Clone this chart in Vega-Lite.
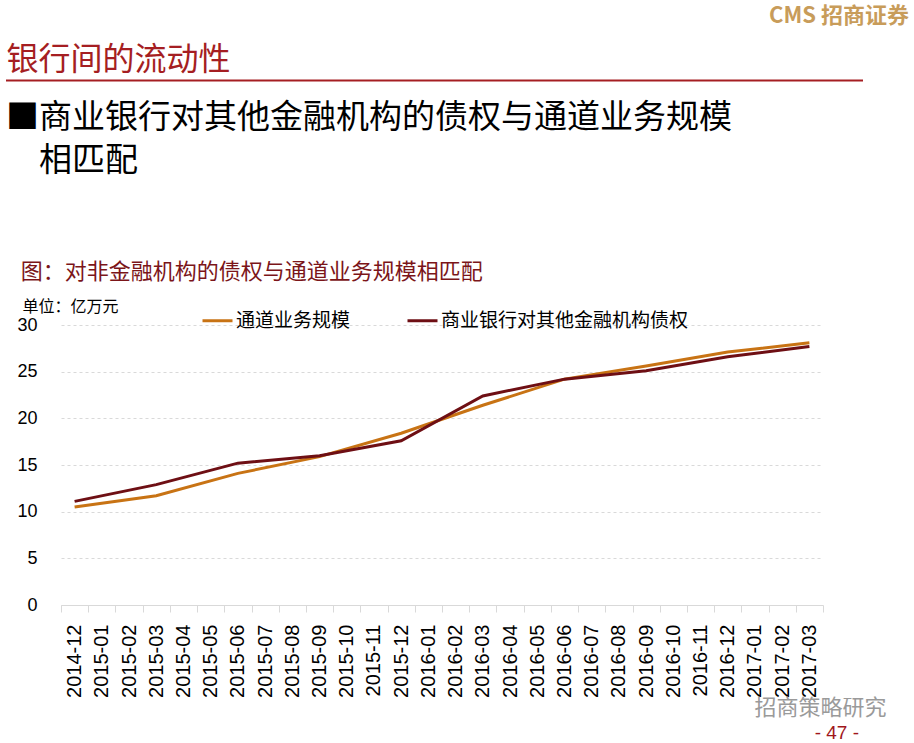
{
  "$schema": "https://vega.github.io/schema/vega-lite/v6.json",
  "description": "商业银行对其他金融机构债权与通道业务规模",
  "padding": {"left": 5, "top": 5, "right": 5, "bottom": 1},
  "spacing": 20,
  "resolve": {"legend": {"color": "independent"}},
  "title": {
    "text": "- 47 -",
    "orient": "bottom",
    "anchor": "end",
    "dx": -50,
    "color": "#a0161b",
    "font": "Liberation Sans",
    "fontSize": 19,
    "fontWeight": "normal",
    "offset": 6
  },
  "config": {
    "view": {"stroke": null},
    "font": "Noto Sans CJK SC"
  },
  "vconcat": [
    {
      "width": 848,
      "height": 1,
      "data": {"values": [{}]},
      "mark": {"type": "rule", "color": "#a51e22", "strokeWidth": 2},
      "encoding": {
        "x": {
          "datum": -55,
          "type": "quantitative",
          "scale": {"domain": [0, 848]},
          "axis": {
            "orient": "top",
            "domain": false,
            "ticks": false,
            "labels": false,
            "grid": false,
            "title": "银行间的流动性",
            "titleFont": "Noto Sans CJK SC",
            "titleAnchor": "start",
            "titleAlign": "left",
            "titleX": -55,
            "titleFontSize": 32,
            "titleFontWeight": "normal",
            "titleColor": "#a51e22",
            "titlePadding": 4
          }
        },
        "x2": {"datum": 802}
      },
      "title": {
        "text": "CMS 招商证券",
        "anchor": "end",
        "color": "#c89c5a",
        "fontSize": 22,
        "fontWeight": "bold",
        "offset": 15
      }
    },
    {
      "width": 762,
      "height": 280,
      "title": {
        "text": ["■商业银行对其他金融机构的债权与通道业务规模", "\u200b\u3000相匹配"],
        "anchor": "start",
        "color": "#000000",
        "fontSize": 33,
        "fontWeight": "normal",
        "lineHeight": 43,
        "subtitle": "\u200b\u2002\u2006图：对非金融机构的债权与通道业务规模相匹配",
        "subtitleFontSize": 22,
        "subtitleColor": "#7b1519",
        "subtitlePadding": 84,
        "offset": 15
      },
      "data": {
        "values": [
          {"month": "2014-12", "series": "通道业务规模", "value": 10.5},
          {"month": "2015-03", "series": "通道业务规模", "value": 11.7},
          {"month": "2015-06", "series": "通道业务规模", "value": 14.1},
          {"month": "2015-09", "series": "通道业务规模", "value": 15.9},
          {"month": "2015-12", "series": "通道业务规模", "value": 18.4},
          {"month": "2016-03", "series": "通道业务规模", "value": 21.4},
          {"month": "2016-06", "series": "通道业务规模", "value": 24.2},
          {"month": "2016-09", "series": "通道业务规模", "value": 25.6},
          {"month": "2016-12", "series": "通道业务规模", "value": 27.1},
          {"month": "2017-03", "series": "通道业务规模", "value": 28.1},
          {"month": "2014-12", "series": "商业银行对其他金融机构债权", "value": 11.1},
          {"month": "2015-03", "series": "商业银行对其他金融机构债权", "value": 12.9},
          {"month": "2015-06", "series": "商业银行对其他金融机构债权", "value": 15.2},
          {"month": "2015-09", "series": "商业银行对其他金融机构债权", "value": 16.0},
          {"month": "2015-12", "series": "商业银行对其他金融机构债权", "value": 17.6},
          {"month": "2016-03", "series": "商业银行对其他金融机构债权", "value": 22.4},
          {"month": "2016-06", "series": "商业银行对其他金融机构债权", "value": 24.2},
          {"month": "2016-09", "series": "商业银行对其他金融机构债权", "value": 25.1},
          {"month": "2016-12", "series": "商业银行对其他金融机构债权", "value": 26.6},
          {"month": "2017-03", "series": "商业银行对其他金融机构债权", "value": 27.7}
        ]
      },
      "mark": {"type": "line", "strokeWidth": 3},
      "encoding": {
        "x": {
          "field": "month",
          "type": "ordinal",
          "scale": {
            "type": "band",
            "paddingInner": 0,
            "paddingOuter": 0,
            "domain": [
              "2014-12", "2015-01", "2015-02", "2015-03", "2015-04", "2015-05", "2015-06",
              "2015-07", "2015-08", "2015-09", "2015-10", "2015-11", "2015-12", "2016-01",
              "2016-02", "2016-03", "2016-04", "2016-05", "2016-06", "2016-07", "2016-08",
              "2016-09", "2016-10", "2016-11", "2016-12", "2017-01", "2017-02", "2017-03"
            ]
          },
          "axis": {
            "labelAngle": -90,
            "labelFont": "Liberation Sans",
            "labelFontSize": 20,
            "labelColor": "#000000",
            "labelPadding": 12,
            "tickBand": "extent",
            "tickColor": "#d9d9d9",
            "tickSize": 7,
            "domainColor": "#d9d9d9",
            "grid": false,
            "title": "招商策略研究",
            "titleColor": "#9a9a9a",
            "titleFontSize": 22,
            "titleFontWeight": "normal",
            "titleAnchor": "end",
            "titleAlign": "right",
            "titleX": 825,
            "titlePadding": 0
          }
        },
        "y": {
          "field": "value",
          "type": "quantitative",
          "scale": {"domain": [0, 30]},
          "axis": {
            "values": [0, 5, 10, 15, 20, 25, 30],
            "labelFont": "Liberation Sans",
            "labelFontSize": 18,
            "labelColor": "#000000",
            "labelPadding": 24,
            "domain": false,
            "ticks": false,
            "gridColor": "#d9d9d9",
            "gridDash": [3, 3],
            "title": "\u200b\u2002\u2002单位：亿万元",
            "titleAngle": 0,
            "titleAlign": "left",
            "titleBaseline": "bottom",
            "titleX": -55,
            "titleY": -11,
            "titleFontSize": 16,
            "titleFontWeight": "normal",
            "titleColor": "#000000"
          }
        },
        "color": {
          "field": "series",
          "type": "nominal",
          "scale": {
            "domain": ["通道业务规模", "商业银行对其他金融机构债权"],
            "range": ["#c87314", "#6e0f14"]
          },
          "legend": {
            "orient": "none",
            "legendX": 140,
            "legendY": -21,
            "direction": "horizontal",
            "title": null,
            "symbolType": "stroke",
            "symbolStrokeWidth": 3,
            "symbolSize": 900,
            "labelFont": "Noto Sans CJK SC",
            "labelFontSize": 19,
            "labelColor": "#000000",
            "labelOffset": 2,
            "labelLimit": 400,
            "columnPadding": 50
          }
        }
      }
    }
  ]
}
